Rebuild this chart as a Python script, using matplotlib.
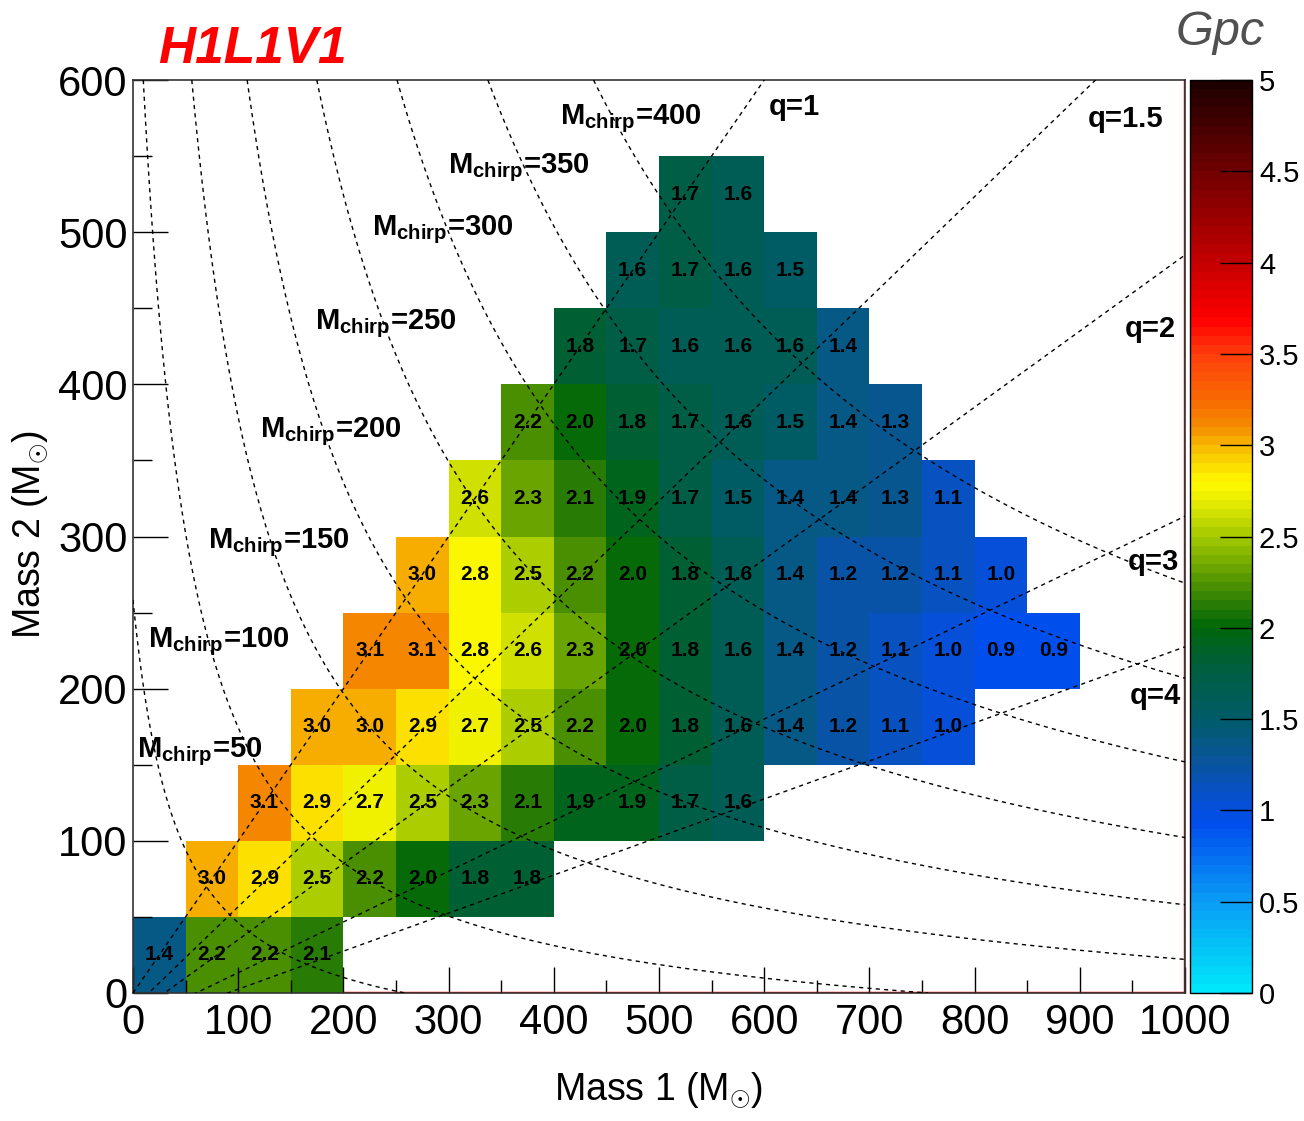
import numpy as np
import matplotlib
matplotlib.use('Agg')
import matplotlib.pyplot as plt
from matplotlib.colors import LinearSegmentedColormap
from matplotlib.ticker import MultipleLocator, FormatStrFormatter
from matplotlib import font_manager

# ---- data ----
BIN = 50
row_m2 = [0, 50, 100, 150, 200, 250, 300, 350, 400, 450, 500]      # lower edge of Mass 2 bin
row_m1_start = [0, 50, 100, 150, 200, 250, 300, 350, 400, 450, 500]  # first filled Mass 1 bin
row_values = [
    [1.4, 2.2, 2.2, 2.1],
    [3.0, 2.9, 2.5, 2.2, 2.0, 1.8, 1.8],
    [3.1, 2.9, 2.7, 2.5, 2.3, 2.1, 1.9, 1.9, 1.7, 1.6],
    [3.0, 3.0, 2.9, 2.7, 2.5, 2.2, 2.0, 1.8, 1.6, 1.4, 1.2, 1.1, 1.0],
    [3.1, 3.1, 2.8, 2.6, 2.3, 2.0, 1.8, 1.6, 1.4, 1.2, 1.1, 1.0, 0.9, 0.9],
    [3.0, 2.8, 2.5, 2.2, 2.0, 1.8, 1.6, 1.4, 1.2, 1.2, 1.1, 1.0],
    [2.6, 2.3, 2.1, 1.9, 1.7, 1.5, 1.4, 1.4, 1.3, 1.1],
    [2.2, 2.0, 1.8, 1.7, 1.6, 1.5, 1.4, 1.3],
    [1.8, 1.7, 1.6, 1.6, 1.6, 1.4],
    [1.6, 1.7, 1.6, 1.5],
    [1.7, 1.6],
]

# chirp-mass guide curves (levels of the drawn curves, masses offset as in the original)
chirp_labels = [50, 100, 150, 200, 250, 300, 350, 400]
chirp_levels = [113, 168, 225, 278, 334, 389, 443, 498]
CHIRP_OFFSET = 60
chirp_label_m1 = [4, 14, 71, 121, 173, 227, 299, 406]
chirp_label_m2 = [155, 227, 292, 365, 436, 498, 539, 571]

# mass-ratio guide lines
q_values = [1, 1.5, 2, 3, 4]
q_names = ['1', '1.5', '2', '3', '4']
Q_OFFSET = 30
q_label_m1 = [604, 908, 943, 946, 948]
q_label_m2 = [577, 569, 431, 278, 190]

# ROOT-like palette
palette = [
    (0.00, (0.00, 0.90, 0.98)),
    (0.50, (0.04, 0.60, 0.96)),
    (0.90, (0.00, 0.31, 0.93)),
    (1.00, (0.02, 0.31, 0.86)),
    (1.25, (0.04, 0.33, 0.62)),
    (1.50, (0.00, 0.36, 0.40)),
    (1.75, (0.00, 0.37, 0.26)),
    (2.00, (0.00, 0.40, 0.04)),
    (2.25, (0.32, 0.58, 0.00)),
    (2.50, (0.64, 0.79, 0.00)),
    (2.70, (0.92, 0.93, 0.00)),
    (2.80, (1.00, 0.98, 0.00)),
    (2.90, (0.98, 0.85, 0.00)),
    (3.00, (0.97, 0.73, 0.00)),
    (3.10, (0.96, 0.56, 0.00)),
    (3.25, (0.97, 0.42, 0.00)),
    (3.50, (1.00, 0.25, 0.05)),
    (3.70, (1.00, 0.00, 0.00)),
    (4.00, (0.78, 0.00, 0.00)),
    (4.50, (0.45, 0.00, 0.00)),
    (5.00, (0.12, 0.00, 0.00)),
]
ZMAX = 5.0

# ---- fonts ----
names = {f.name for f in font_manager.fontManager.ttflist}
if 'Liberation Sans Narrow' in names:
    narrow = ['Liberation Sans Narrow', 'DejaVu Sans']
    axis_fs, label_fs, cell_fs = 34, 32, 17
else:
    narrow = ['Liberation Sans', 'DejaVu Sans']
    axis_fs, label_fs, cell_fs = 30, 27, 15
sans = ['Liberation Sans', 'DejaVu Sans']

plt.rcParams['font.family'] = sans
plt.rcParams['mathtext.fontset'] = 'custom'
plt.rcParams['mathtext.rm'] = narrow[0]
plt.rcParams['mathtext.bf'] = 'Liberation Sans:bold'

cmap = LinearSegmentedColormap.from_list(
    'root', [(v / ZMAX, c) for v, c in palette], N=100)

# ---- grid ----
x_edges = np.arange(0, 1000 + BIN, BIN)
y_edges = np.arange(0, 600 + BIN, BIN)
Z = np.full((len(y_edges) - 1, len(x_edges) - 1), np.nan)
for m2, start, vals in zip(row_m2, row_m1_start, row_values):
    i = m2 // BIN
    j0 = start // BIN
    Z[i, j0:j0 + len(vals)] = vals

fig = plt.figure(figsize=(13.04, 11.21), dpi=100)
ax = fig.add_axes([0.102, 0.1142, 0.8067, 0.8144])
cax = fig.add_axes([0.9126, 0.1142, 0.0475, 0.8144])

mesh = ax.pcolormesh(x_edges, y_edges, np.ma.masked_invalid(Z),
                     cmap=cmap, vmin=0, vmax=ZMAX, zorder=1)

for i in range(Z.shape[0]):
    for j in range(Z.shape[1]):
        v = Z[i, j]
        if np.isnan(v):
            continue
        ax.text(x_edges[j] + BIN / 2, y_edges[i] + BIN / 2, f'{v:.1f}',
                ha='center', va='center', fontsize=cell_fs,
                fontweight='bold', family=narrow, zorder=3)

# chirp mass curves
m1g, m2g = np.meshgrid(np.linspace(0, 1000, 1001), np.linspace(0, 600, 601))
a = m1g + CHIRP_OFFSET
b = m2g + CHIRP_OFFSET
mc = (a * b) ** 0.6 / (a + b) ** 0.2
cs = ax.contour(m1g, m2g, mc, levels=chirp_levels, colors='k',
                linewidths=1.0, zorder=4)
cs.set_linestyle([(0, (3, 3))])

# mass ratio lines
m1 = np.linspace(0, 1000, 400)
for q in q_values:
    ax.plot(m1, (m1 + Q_OFFSET) / q - Q_OFFSET, color='k', lw=1.0,
            ls=(0, (3, 3)), zorder=4)

for lab, x, y in zip(chirp_labels, chirp_label_m1, chirp_label_m2):
    ax.text(x, y, r'$\mathbf{M}_{\mathbf{chirp}}$=' + str(lab),
            fontsize=21, fontweight='bold', ha='left', va='baseline', zorder=5)
for name, x, y in zip(q_names, q_label_m1, q_label_m2):
    ax.text(x, y, 'q=' + name, fontsize=21, fontweight='bold',
            ha='left', va='baseline', zorder=5)

ax.set_xlim(0, 1000)
ax.set_ylim(0, 600)

# red inner border on the right and bottom
ax.axvline(ax.get_xlim()[1], color='red', lw=2.5, zorder=0.8)
ax.axhline(ax.get_ylim()[0], color='red', lw=2.5, zorder=0.8)
for s in ax.spines.values():
    s.set_linewidth(1.2)
    s.set_color('#333333')

ax.xaxis.set_major_locator(MultipleLocator(100))
ax.xaxis.set_minor_locator(MultipleLocator(50))
ax.yaxis.set_major_locator(MultipleLocator(100))
ax.yaxis.set_minor_locator(MultipleLocator(50))
ax.tick_params(axis='x', which='major', direction='in', length=19, width=1, pad=7)
ax.tick_params(axis='x', which='minor', direction='in', length=9.5, width=1)
ax.tick_params(axis='y', which='major', direction='in', length=25, width=1, pad=4)
ax.tick_params(axis='y', which='minor', direction='in', length=14, width=1)
for lbl in ax.get_xticklabels() + ax.get_yticklabels():
    lbl.set_family(narrow)
    lbl.set_fontsize(axis_fs)

ax.text(0.5, -0.107, r'Mass 1 (M$_{\odot}$)', transform=ax.transAxes,
        ha='center', va='center', fontsize=label_fs, family=narrow)
ax.text(-0.098, 0.502, r'Mass 2 (M$_{\odot}$)', transform=ax.transAxes,
        ha='center', va='center', rotation=90, fontsize=label_fs, family=narrow)

cb = fig.colorbar(mesh, cax=cax)
cb.set_ticks(np.arange(0, ZMAX + 0.01, 0.5))
cb.ax.yaxis.set_major_formatter(FormatStrFormatter('%g'))
cb.ax.tick_params(direction='in', length=23, width=1, labelsize=21, pad=5)
cb.outline.set_linewidth(1.0)
cb.ax.minorticks_off()

fig.text(158 / 1304, 1 - 63 / 1121, 'H1L1V1', color='red', fontsize=37,
         fontweight='bold', fontstyle='italic', ha='left', va='baseline')
fig.text(1265 / 1304, 1 - 45 / 1121, 'Gpc', color='#505050', fontsize=35,
         fontstyle='italic', ha='right', va='baseline')

fig.savefig('out.png', dpi=100)
